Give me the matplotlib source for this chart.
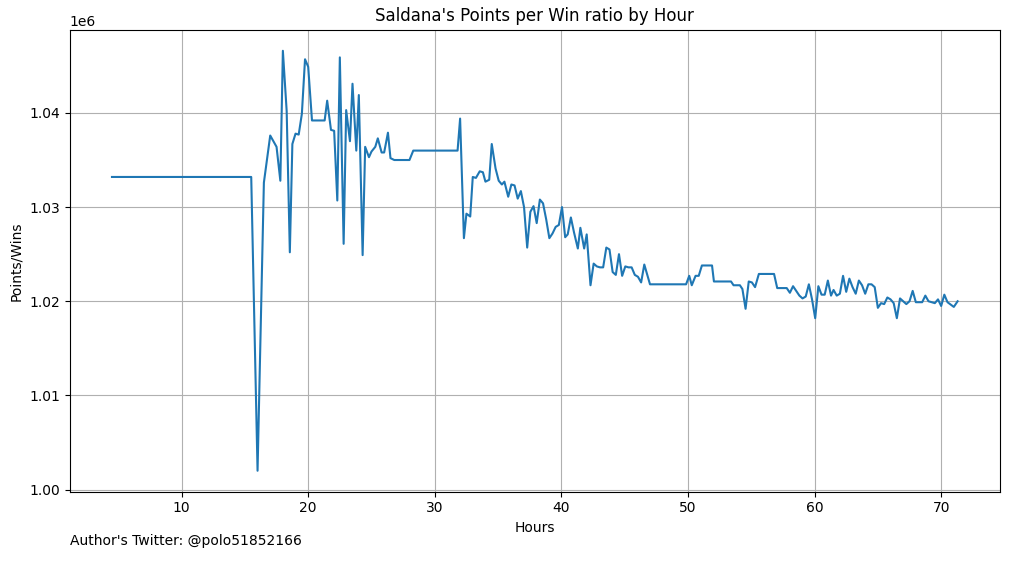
import matplotlib
matplotlib.use("Agg")
import matplotlib.pyplot as plt

# hours and points/wins ratio
hours = [4.5, 15.5, 16.0, 16.5, 17.0, 17.5, 17.8, 18.0, 18.3, 18.55, 18.75, 19.0, 19.25, 19.5, 19.75,
         20.0, 20.3, 21.3, 21.5, 21.8, 22.05, 22.3, 22.5, 22.8, 23.0, 23.3, 23.5, 23.8, 24.0, 24.3,
         24.5, 24.8, 25.0, 25.3, 25.5, 25.8, 26.0, 26.3, 26.5, 26.8, 28.0, 28.3, 31.8, 32.0, 32.3,
         32.5, 32.8, 33.0, 33.25, 33.55, 33.8, 34.0, 34.3, 34.5, 34.8, 35.05, 35.3, 35.5, 35.8, 36.05,
         36.3, 36.55, 36.8, 37.05, 37.3, 37.55, 37.8, 38.05, 38.3, 38.55, 38.8, 39.05, 39.3, 39.55,
         39.8, 40.05, 40.3, 40.5, 40.75, 41.0, 41.3, 41.5, 41.8, 42.0, 42.3, 42.55, 42.8, 43.05, 43.3,
         43.55, 43.8, 44.05, 44.3, 44.55, 44.8, 45.05, 45.3, 45.55, 45.8, 46.05, 46.3, 46.55, 47.0,
         49.85, 50.1, 50.3, 50.6, 50.85, 51.1, 51.9, 52.05, 53.4, 53.6, 54.1, 54.3, 54.55, 54.8, 55.05,
         55.3, 55.6, 56.8, 57.05, 57.8, 58.05, 58.3, 58.55, 58.8, 59.05, 59.3, 59.55, 59.8, 60.05,
         60.3, 60.55, 60.8, 61.05, 61.3, 61.5, 61.75, 62.0, 62.25, 62.5, 62.75, 63.0, 63.25, 63.5,
         63.75, 64.0, 64.25, 64.5, 64.75, 65.0, 65.25, 65.5, 65.75, 66.0, 66.25, 66.5, 66.75, 67.0,
         67.25, 67.5, 67.75, 68.0, 68.25, 68.5, 68.75, 69.0, 69.25, 69.5, 69.75, 70.0, 70.25, 70.5,
         70.8, 71.0, 71.3]
ratio = [1.0332, 1.0332, 1.0020, 1.0326, 1.0376, 1.0364, 1.0328, 1.0466, 1.0402, 1.0252, 1.0367,
         1.0378, 1.0377, 1.0399, 1.0457, 1.0449, 1.0392, 1.0392, 1.0413, 1.0382, 1.0381, 1.0307,
         1.0459, 1.0261, 1.0403, 1.0370, 1.0431, 1.0360, 1.0419, 1.0249, 1.0364, 1.0353, 1.0359,
         1.0364, 1.0373, 1.0358, 1.0358, 1.0379, 1.0352, 1.0350, 1.0350, 1.0360, 1.0360, 1.0394,
         1.0267, 1.0293, 1.0290, 1.0332, 1.0331, 1.0338, 1.0337, 1.0327, 1.0329, 1.0367, 1.0341,
         1.0328, 1.0324, 1.0327, 1.0311, 1.0324, 1.0323, 1.0309, 1.0317, 1.0300, 1.0257, 1.0295,
         1.0301, 1.0283, 1.0308, 1.0304, 1.0287, 1.0267, 1.0272, 1.0279, 1.0281, 1.0300, 1.0268,
         1.0271, 1.0289, 1.0273, 1.0256, 1.0278, 1.0256, 1.0271, 1.0217, 1.0240, 1.0237, 1.0236,
         1.0236, 1.0257, 1.0255, 1.0231, 1.0228, 1.0250, 1.0227, 1.0237, 1.0236, 1.0236, 1.0228,
         1.0226, 1.0220, 1.0239, 1.0218, 1.0218, 1.0227, 1.0217, 1.0227, 1.0227, 1.0238, 1.0238,
         1.0221, 1.0221, 1.0217, 1.0217, 1.0213, 1.0192, 1.0221, 1.0220, 1.0215, 1.0229, 1.0229,
         1.0214, 1.0214, 1.0209, 1.0216, 1.0211, 1.0206, 1.0203, 1.0205, 1.0218, 1.0202, 1.0182,
         1.0216, 1.0207, 1.0207, 1.0222, 1.0206, 1.0212, 1.0206, 1.0208, 1.0227, 1.0210, 1.0224,
         1.0215, 1.0208, 1.0222, 1.0217, 1.0208, 1.0218, 1.0218, 1.0215, 1.0193, 1.0198, 1.0197,
         1.0204, 1.0202, 1.0198, 1.0182, 1.0203, 1.0200, 1.0197, 1.0200, 1.0211, 1.0199, 1.0199,
         1.0199, 1.0206, 1.0200, 1.0199, 1.0198, 1.0202, 1.0195, 1.0207, 1.0199, 1.0196, 1.0194,
         1.0200]

fig = plt.figure(figsize=(10.1, 5.62), dpi=100)
ax = fig.add_axes([0.069, 0.125, 0.921, 0.822])
ax.plot(hours, [r * 1e6 for r in ratio])
ax.set_title("Saldana's Points per Win ratio by Hour")
ax.set_xlabel("Hours")
ax.set_ylabel("Points/Wins")
ax.grid(True)
fig.text(0.069, 0.03, "Author's Twitter: @polo51852166")
fig.savefig("out.png")
